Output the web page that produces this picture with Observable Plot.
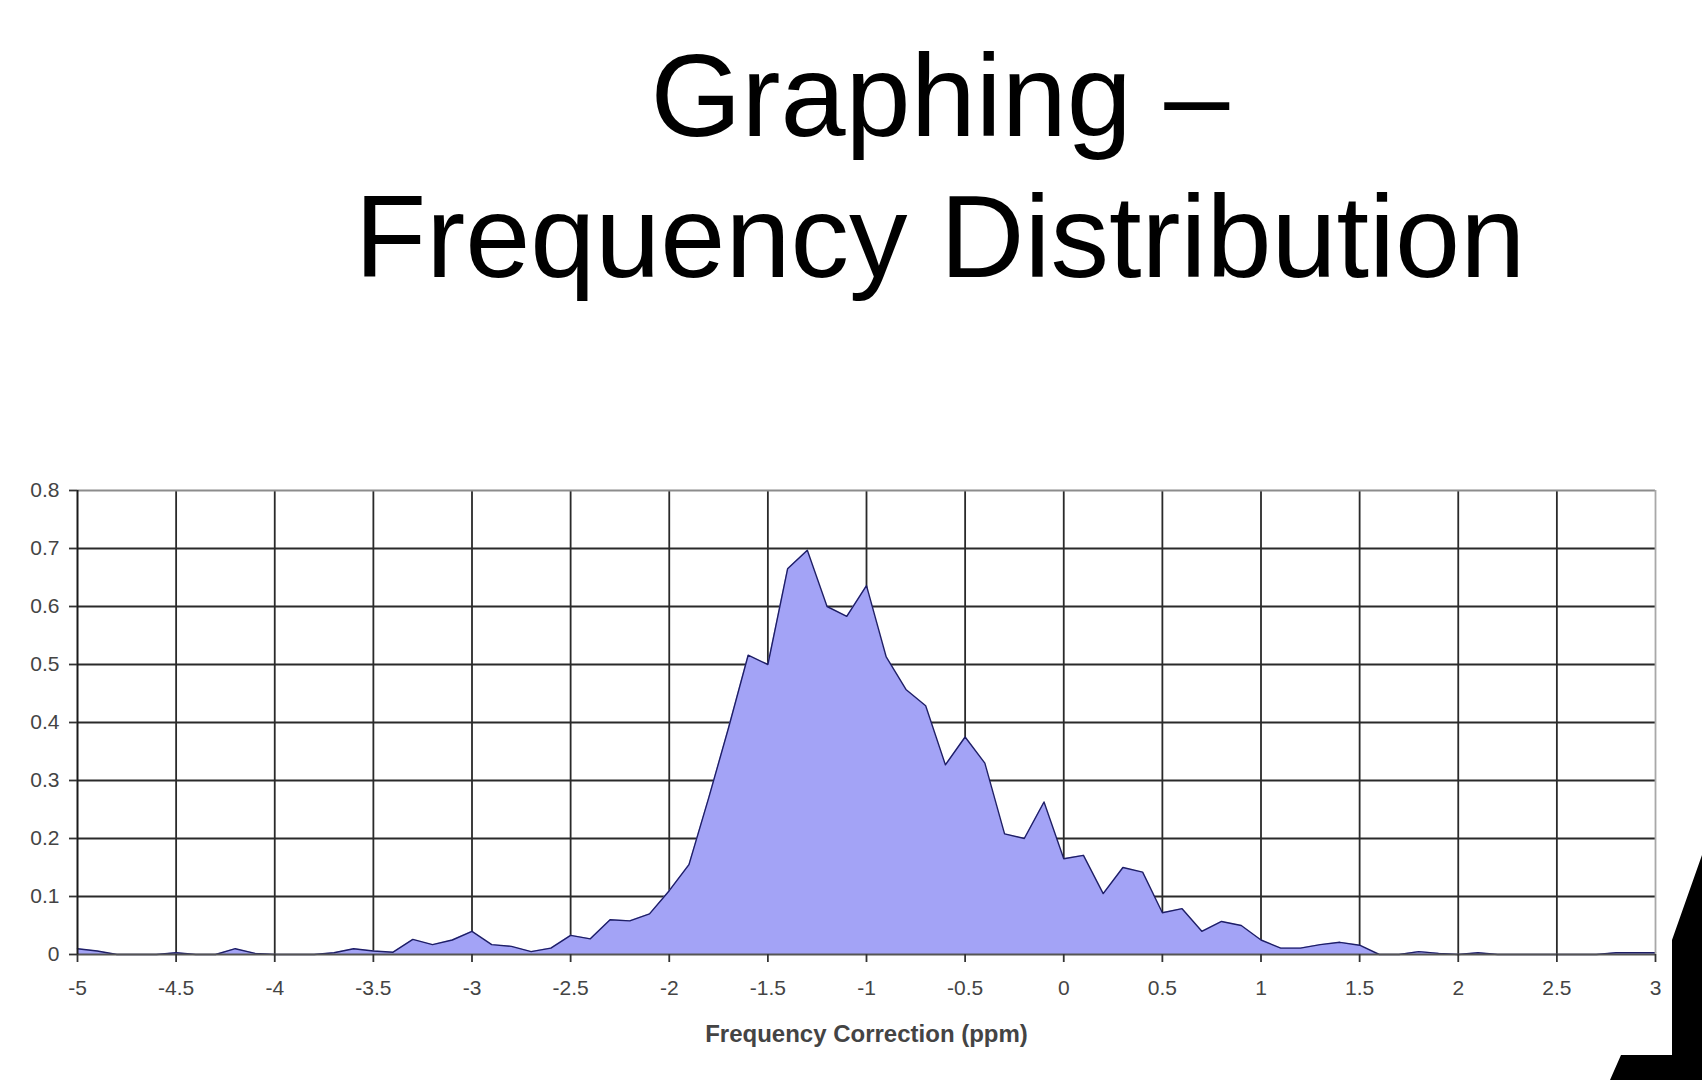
<!DOCTYPE html>
<html>
<head>
<meta charset="utf-8">
<script src="https://cdn.jsdelivr.net/npm/d3@7"></script>
<script src="https://cdn.jsdelivr.net/npm/@observablehq/plot@0.6"></script>
<style>
  html, body { margin: 0; padding: 0; background: #fff; }
  #page { position: relative; width: 1702px; height: 1080px; overflow: hidden; background: #fff; }
  #title { position: absolute; left: 0; top: 25px; width: 1880px; text-align: center;
           font-family: "Liberation Sans", Arial, sans-serif; font-size: 117px; line-height: 141px; color: #000; }
  #chart { position: absolute; left: 0; top: 430px; }
  #deco { position: absolute; left: 0; top: 0; }
</style>
</head>
<body>
<div id="page">
  <div id="title">Graphing –<br>Frequency Distribution</div>
  <div id="chart"></div>
  <svg id="deco" width="1702" height="1080"><polygon points="1702,855 1672,940 1672,1055 1621,1055 1610,1080 1702,1080" fill="#000"/></svg>
</div>
<script>
// Frequency correction (ppm) bins
const freqCorrection = [
  -5.0, -4.9, -4.8, -4.7, -4.6, -4.5, -4.4, -4.3, -4.2, -4.1,
  -4.0, -3.9, -3.8, -3.7, -3.6, -3.5, -3.4, -3.3, -3.2, -3.1,
  -3.0, -2.9, -2.8, -2.7, -2.6, -2.5, -2.4, -2.3, -2.2, -2.1,
  -2.0, -1.9, -1.8, -1.7, -1.6, -1.5, -1.4, -1.3, -1.2, -1.1,
  -1.0, -0.9, -0.8, -0.7, -0.6, -0.5, -0.4, -0.3, -0.2, -0.1,
   0.0,  0.1,  0.2,  0.3,  0.4,  0.5,  0.6,  0.7,  0.8,  0.9,
   1.0,  1.1,  1.2,  1.3,  1.4,  1.5,  1.6,  1.7,  1.8,  1.9,
   2.0,  2.1,  2.2,  2.3,  2.4,  2.5,  2.6,  2.7,  2.8,  2.9,
   3.0
];
// Relative frequency
const frequency = [
  0.010, 0.006, 0.000, 0.000, 0.000, 0.003, 0.000, 0.000, 0.010, 0.002,
  0.000, 0.000, 0.000, 0.003, 0.010, 0.006, 0.004, 0.026, 0.017, 0.025,
  0.040, 0.017, 0.014, 0.005, 0.011, 0.033, 0.027, 0.060, 0.058, 0.070,
  0.110, 0.155, 0.270, 0.390, 0.516, 0.500, 0.665, 0.697, 0.600, 0.583,
  0.636, 0.513, 0.457, 0.429, 0.327, 0.375, 0.330, 0.208, 0.200, 0.263,
  0.165, 0.171, 0.105, 0.150, 0.142, 0.072, 0.079, 0.040, 0.057, 0.050,
  0.025, 0.011, 0.011, 0.017, 0.021, 0.016, 0.000, 0.000, 0.005, 0.002,
  0.000, 0.003, 0.000, 0.000, 0.000, 0.000, 0.000, 0.000, 0.003, 0.003,
  0.003
];
const xTicks = [-5, -4.5, -4, -3.5, -3, -2.5, -2, -1.5, -1, -0.5, 0, 0.5, 1, 1.5, 2, 2.5, 3];
const yTicks = [0, 0.1, 0.2, 0.3, 0.4, 0.5, 0.6, 0.7, 0.8];
const xInnerGrid = xTicks.slice(1, -1);
const yInnerGrid = yTicks.slice(1, -1);
const xTitle = "Frequency Correction (ppm)";

const data = freqCorrection.map((x, i) => ({x, y: frequency[i]}));

const chart = Plot.plot({
  width: 1702,
  height: 644,
  marginLeft: 77,
  marginRight: 47,
  marginTop: 60,
  marginBottom: 120,
  x: {domain: [-5, 3]},
  y: {domain: [0, 0.8]},
  style: {fontFamily: "'Liberation Sans', Arial, sans-serif", fontSize: "21px", color: "#444", background: "transparent", overflow: "visible"},
  marks: [
    Plot.gridX(xInnerGrid, {stroke: "#2a2a2a", strokeOpacity: 1, strokeWidth: 1.8}),
    Plot.gridY(yInnerGrid, {stroke: "#2a2a2a", strokeOpacity: 1, strokeWidth: 1.8}),
    Plot.areaY(data, {x: "x", y: "y", fill: "#a3a3f6"}),
    Plot.lineY(data, {x: "x", y: "y", stroke: "#1e1e66", strokeWidth: 1.4}),
    Plot.ruleY([0.8], {stroke: "#8c8c8c", strokeWidth: 1.8}),
    Plot.ruleX([3], {stroke: "#a8a8a8", strokeWidth: 1.8}),
    Plot.ruleY([0], {stroke: "#555", strokeWidth: 2}),
    Plot.ruleX([-5], {stroke: "#1a1a1a", strokeWidth: 2}),
    Plot.axisX(xTicks, {tickFormat: d => String(d), tickSize: 8, tickPadding: 18, stroke: "#333", strokeWidth: 1.8, fill: "#444", label: null}),
    Plot.axisY(yTicks, {tickFormat: d => d === 0 ? "0" : d.toFixed(1), tickSize: 8, tickPadding: 10, stroke: "#333", strokeWidth: 1.8, fill: "#444", label: null}),
    Plot.text([xTitle], {frameAnchor: "bottom", dy: 80, lineAnchor: "middle", fontWeight: "bold", fontSize: 24, fill: "#444"})
  ]
});
document.getElementById("chart").appendChild(chart);
</script>
</body>
</html>
